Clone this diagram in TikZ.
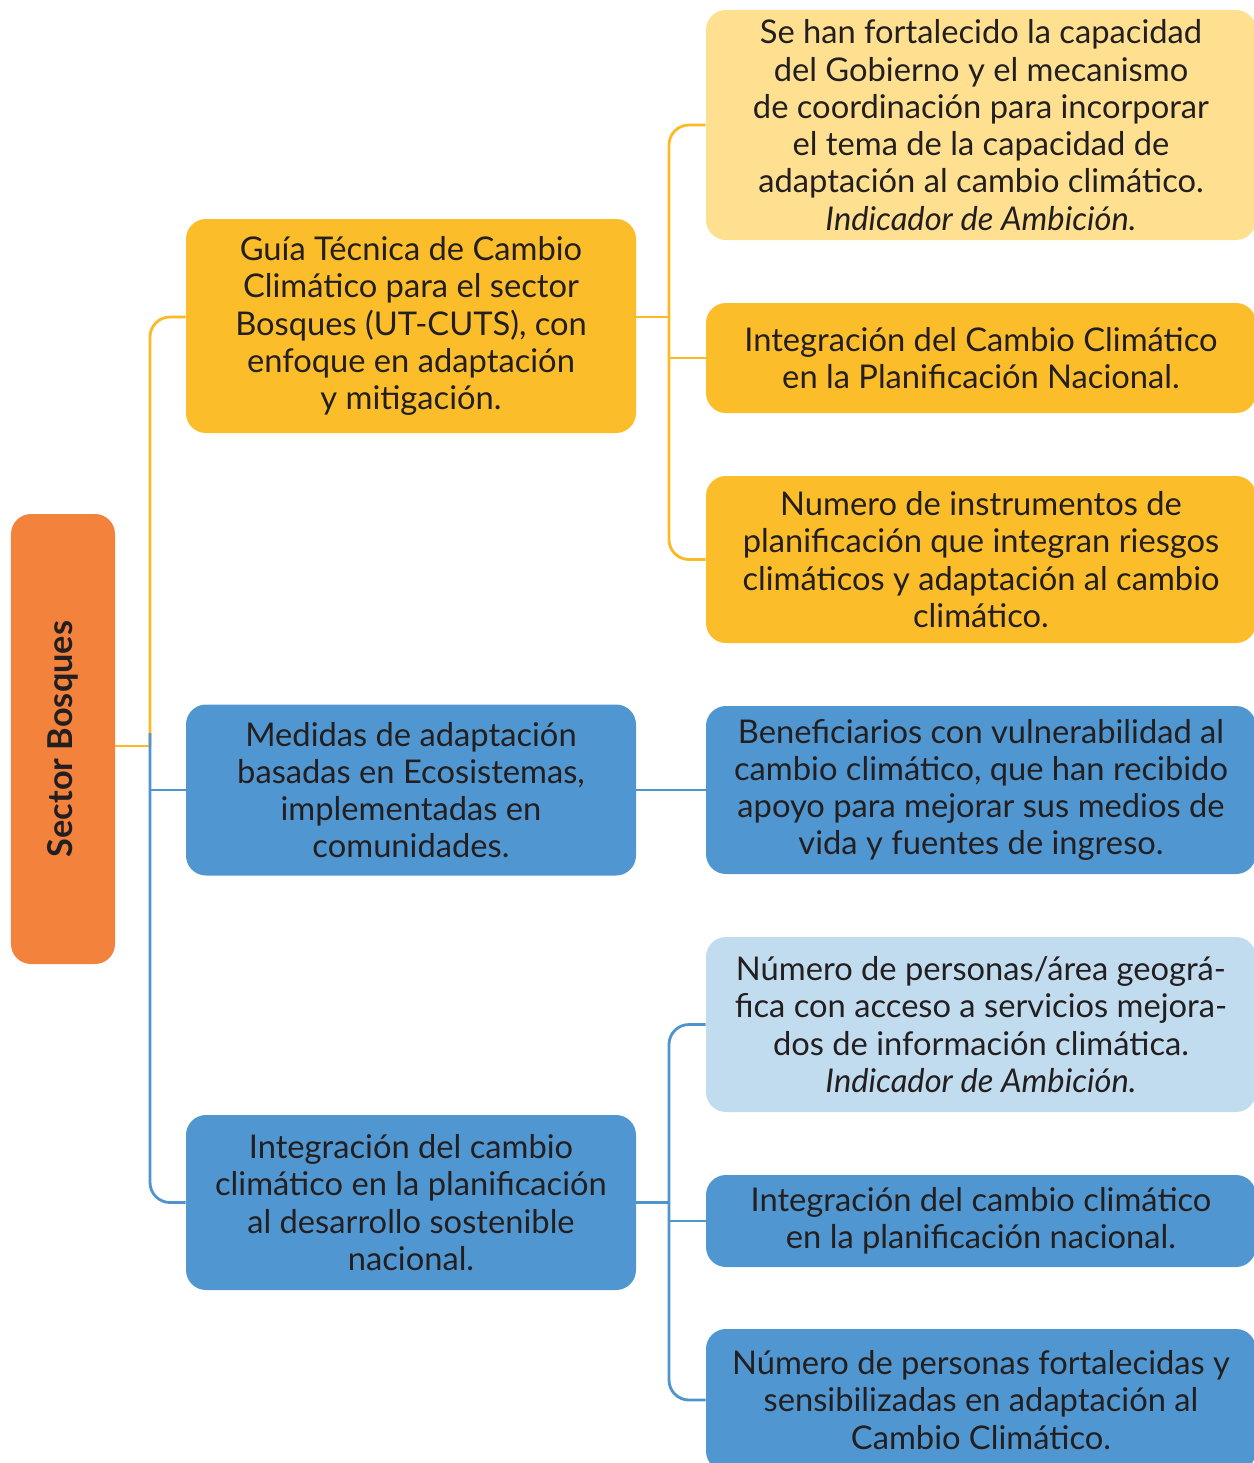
\documentclass[tikz,border=0pt]{standalone}
\usepackage{fontspec}
\setmainfont{Lato}
\usepackage{tikz}
\usetikzlibrary{positioning,calc}
\usepackage{xcolor}
\definecolor{naranja}{HTML}{F2823C}
\definecolor{amarillo}{HTML}{FCBD2A}
\definecolor{amarilloclaro}{HTML}{FEE090}
\definecolor{azul}{HTML}{5097D1}
\definecolor{azulclaro}{HTML}{C2DCEF}
\definecolor{lineaamarilla}{HTML}{FBBA25}
\definecolor{lineaazul}{HTML}{4E95D0}
\definecolor{texto}{HTML}{231F20}

\tikzset{
    caja/.style={rectangle, rounded corners=0.4cm, align=center, text=texto,
        font=\fontsize{18.6}{21.2}\selectfont, inner sep=0pt},
    medio/.style={caja, minimum width=9cm},
    derecha/.style={caja, minimum width=11cm},
    conY/.style={draw=lineaamarilla, line width=1.6pt},
    conB/.style={draw=lineaazul, line width=1.6pt}
}

\begin{document}
\begin{tikzpicture}
        \useasboundingbox (0,0) rectangle (25.08,-29.26);
        % Caja principal
        \node[caja, fill=naranja, minimum width=2.08cm, minimum height=9cm] (raiz) at (1.26,-14.78) {};
        \node[rotate=90, text=texto, font=\fontsize{19.5}{22}\selectfont\bfseries] (titulo) at (raiz) {Sector Bosques};
        % Columna central
        \node[medio, fill=amarillo, minimum height=4.28cm] (guia) at (8.22,-6.52)
            {Guía Técnica de Cambio\\Climático para el sector\\Bosques (UT-CUTS), con\\enfoque en adaptación\\y mitigación.};
        \node[medio, fill=azul, minimum height=3.42cm] (medidas) at (8.22,-15.8)
            {Medidas de adaptación\\basadas en Ecosistemas,\\implementadas en\\comunidades.};
        \node[medio, fill=azul, minimum height=3.5cm] (integ) at (8.22,-24.05)
            {Integración del cambio\\climático en la planificación\\al desarrollo sostenible\\nacional.};
        % Columna derecha (indicadores)
        \node[derecha, fill=amarilloclaro, minimum height=4.6cm] (capacidad) at (19.62,-2.5)
            {Se han fortalecido la capacidad\\del Gobierno y el mecanismo\\de coordinación para incorporar\\el tema de la capacidad de\\adaptación al cambio climático.\\\textit{Indicador de Ambición.}};
        \node[derecha, fill=amarillo, minimum height=2.2cm] (planif) at (19.62,-7.16)
            {Integración del Cambio Climático\\en la Planificación Nacional.};
        \node[derecha, fill=amarillo, minimum height=3.34cm] (instr) at (19.62,-11.19)
            {Numero de instrumentos de\\planificación que integran riesgos\\climáticos y adaptación al cambio\\climático.};
        \node[derecha, fill=azul, minimum height=3.36cm] (benef) at (19.62,-15.8)
            {Beneficiarios con vulnerabilidad al\\cambio climático, que han recibido\\apoyo para mejorar sus medios de\\vida y fuentes de ingreso.};
        \node[derecha, fill=azulclaro, minimum height=3.5cm] (personas) at (19.62,-20.49)
            {Número de personas/área geográ-\\fica con acceso a servicios mejora-\\dos de información climática.\\\textit{Indicador de Ambición.}};
        \node[derecha, fill=azul, minimum height=1.84cm] (integnac) at (19.62,-24.42)
            {Integración del cambio climático\\en la planificación nacional.};
        \node[derecha, fill=azul, minimum height=2.84cm] (sensib) at (19.62,-28.0)
            {Número de personas fortalecidas y\\sensibilizadas en adaptación al\\Cambio Climático.};
        % Troncos izquierdos
        \coordinate (troncoY) at (3.0,-14.92);
        \coordinate (troncoB) at (3.0,-14.66);
        \draw[conY] ([yshift=-0.14cm]raiz.east) -- (troncoY);
        \draw[conY, rounded corners=0.4cm] (troncoY) |- ([yshift=0.18cm]guia.west);
        \draw[conB] (troncoB) |- (medidas.west);
        \draw[conB, rounded corners=0.4cm] (troncoB) |- (integ.west);
        % Troncos derechos
        \coordinate (ramaY) at (13.38,-7);
        \coordinate (ramaB) at (13.38,-24);
        \draw[conY, rounded corners=0.4cm] (capacidad.west) -| (ramaY) |- (instr.west);
        \draw[conY] ([yshift=0.18cm]guia.east) -- ([yshift=0.18cm]guia.east -| ramaY);
        \draw[conY] (ramaY |- planif.west) -- (planif.west);
        \draw[conB] (medidas.east) -- (benef.west);
        \draw[conB, rounded corners=0.4cm] (personas.west) -| (ramaB) |- (sensib.west);
        \draw[conB] (integ.east) -- (integ.east -| ramaB);
        \draw[conB] (ramaB |- integnac.west) -- (integnac.west);
    \end{tikzpicture}
\end{document}
